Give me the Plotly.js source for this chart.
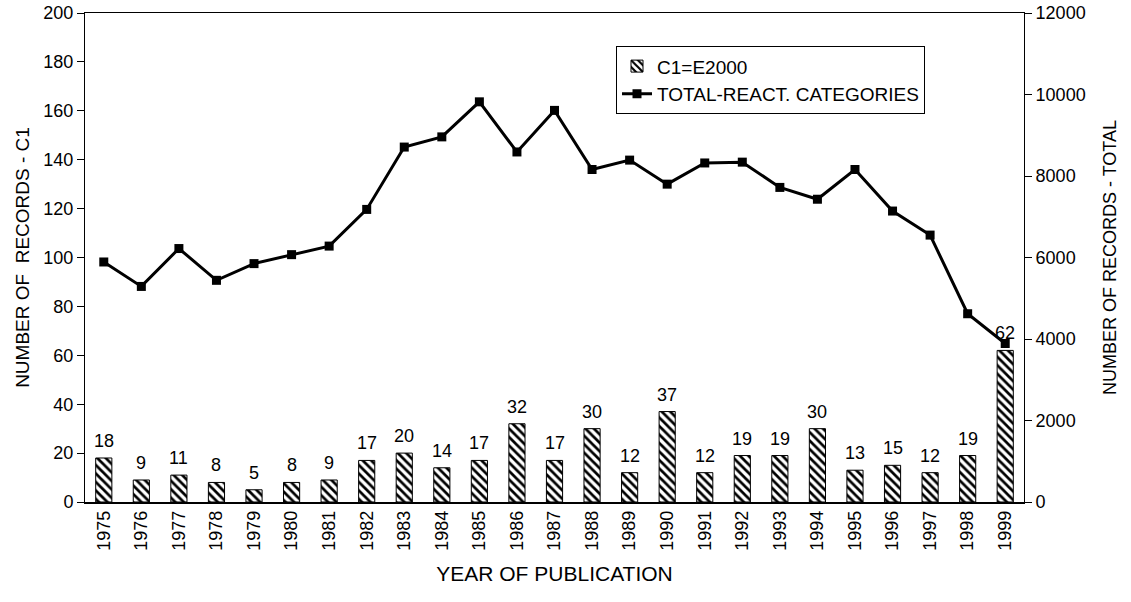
<!DOCTYPE html>
<html>
<head>
<meta charset="utf-8">
<script src="https://cdn.plot.ly/plotly-3.0.1.min.js"></script>
<style>html,body{margin:0;padding:0;background:#fff;}#chart{width:1131px;height:602px;}</style>
</head>
<body>
<div id="chart"></div>
<script>
const years = ["1975","1976","1977","1978","1979","1980","1981","1982","1983","1984","1985","1986","1987","1988","1989","1990","1991","1992","1993","1994","1995","1996","1997","1998","1999"];
const c1Values = [18,9,11,8,5,8,9,17,20,14,17,32,17,30,12,37,12,19,19,30,13,15,12,19,62];
const totalValues = [5890,5290,6220,5440,5850,6070,6280,7180,8710,8960,9820,8590,9610,8160,8390,7800,8320,8340,7720,7430,8160,7140,6550,4620,3890];
const seriesNames = ["C1=E2000", "TOTAL-REACT. CATEGORIES"];

const FONT = "Liberation Sans, Arial, sans-serif";

const traces = [
  {
    type: "bar",
    name: seriesNames[0],
    x: years,
    y: c1Values,
    width: 0.43,
    marker: {
      color: "#fff",
      line: {color: "#000", width: 1},
      pattern: {shape: "\\", fgcolor: "#000", bgcolor: "#fff", size: 6, solidity: 0.45}
    },
    yaxis: "y"
  },
  {
    type: "scatter",
    mode: "lines+markers",
    name: seriesNames[1],
    x: years,
    y: totalValues,
    line: {color: "#000", width: 3},
    marker: {symbol: "square", size: 9, color: "#000"},
    cliponaxis: false,
    yaxis: "y2"
  }
];

// value labels above each bar, placed through the category axis (index = category position)
const valueLabels = years.map((yr, i) => ({
  x: i, y: c1Values[i], xref: "x", yref: "y",
  text: String(c1Values[i]), showarrow: false,
  xanchor: "center", yanchor: "bottom", yshift: 5,
  font: {family: FONT, size: 18, color: "#000"}
}));

const layout = {
  width: 1131,
  height: 602,
  margin: {l: 85, r: 107, t: 13, b: 100},
  paper_bgcolor: "#fff",
  plot_bgcolor: "#fff",
  font: {family: FONT, size: 18, color: "#000"},
  showlegend: true,
  legend: {
    x: 0.5655, y: 0.932, xanchor: "left", yanchor: "top",
    bgcolor: "#fff", bordercolor: "#000", borderwidth: 1,
    font: {family: FONT, size: 19, color: "#000"},
    tracegroupgap: 0
  },
  annotations: valueLabels,
  xaxis: {
    type: "category",
    categoryorder: "array", categoryarray: years,
    range: [-0.5, 24.5],
    tickangle: -90,
    showline: true, linecolor: "#000", linewidth: 1.5, mirror: true,
    ticks: "", showgrid: false, zeroline: false,
    tickfont: {family: FONT, size: 18, color: "#000"},
    title: {text: "YEAR OF PUBLICATION", font: {family: FONT, size: 21, color: "#000"}, standoff: 16}
  },
  yaxis: {
    range: [0, 200], dtick: 20,
    showline: true, linecolor: "#000", linewidth: 1,
    ticks: "outside", ticklen: 7, tickcolor: "#000",
    showgrid: false, zeroline: false,
    tickfont: {family: FONT, size: 18, color: "#000"},
    title: {text: "NUMBER OF&nbsp; RECORDS - C1", font: {family: FONT, size: 19, color: "#000"}, standoff: 8}
  },
  yaxis2: {
    range: [0, 12000], dtick: 2000, tickformat: "d",
    overlaying: "y", side: "right",
    showline: true, linecolor: "#000", linewidth: 1,
    ticks: "outside", ticklen: 7, tickcolor: "#000",
    showgrid: false, zeroline: false,
    tickfont: {family: FONT, size: 18, color: "#000"},
    title: {text: "NUMBER OF RECORDS - TOTAL", font: {family: FONT, size: 18, color: "#000"}, standoff: 18}
  }
};

Plotly.newPlot("chart", traces, layout, {displayModeBar: false, staticPlot: true});
</script>
</body>
</html>
